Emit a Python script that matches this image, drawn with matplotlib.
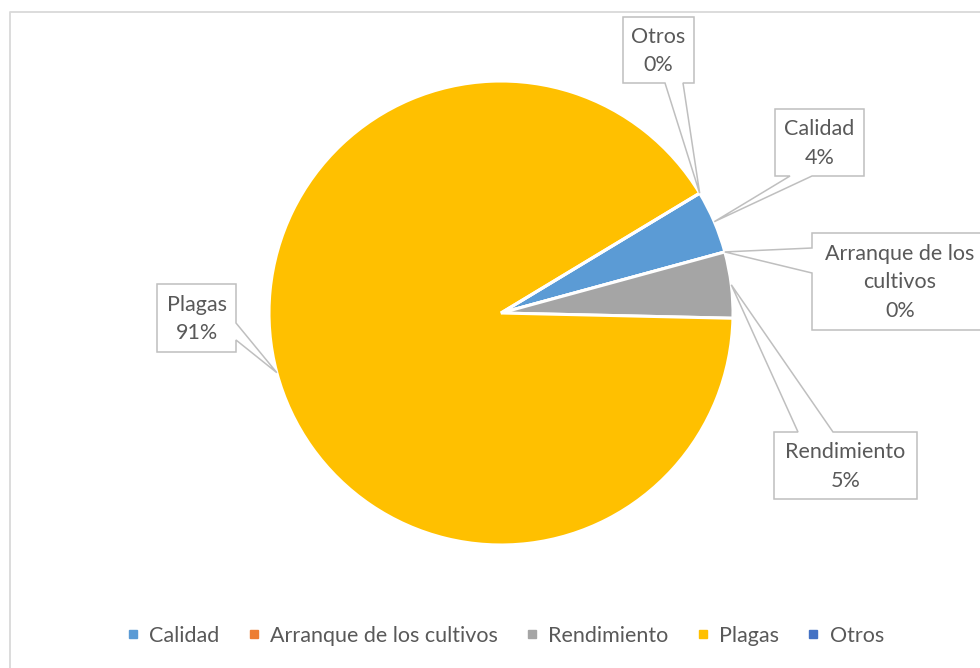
import matplotlib
matplotlib.use("Agg")
import matplotlib.pyplot as plt
from matplotlib.patches import Polygon
from matplotlib.lines import Line2D
import numpy as np

# data
categories = ["Calidad", "Arranque de los cultivos", "Rendimiento", "Plagas", "Otros"]
box_titles = ["Calidad", "Arranque de los\ncultivos", "Rendimiento", "Plagas", "Otros"]
shares = [4.4, 0.0, 4.6, 91.0, 0.0]
colors = ["#5B9BD5", "#ED7D31", "#A5A5A5", "#FFC000", "#4472C4"]

INK = "#595959"
EDGE = "#BFBFBF"
FONT = "Lato"
FS = 15.5

W, H = 980, 668
CX, CY, R = 501, 313, 232

# callout layout in pixels: box (x0, y0, x1, y1), side the pointer leaves from, base span on that side
CALLOUTS = {
    "Calidad": ((775, 109, 864, 176), "bottom", (790, 812)),
    "Arranque de los cultivos": ((812, 233, 992, 330), "left", (248, 273)),
    "Rendimiento": ((774, 432, 917, 499), "top", (798, 833)),
    "Plagas": ((157, 284, 236, 352), "right", (323, 340)),
    "Otros": ((623, 17, 694, 83), "bottom", (665, 683)),
}

fig = plt.figure(figsize=(W / 100, H / 100), dpi=100)
fig.patch.set_facecolor("white")

ax = fig.add_axes([(CX - R) / W, (H - CY - R) / H, 2 * R / W, 2 * R / H])
wedges, _ = ax.pie(shares, colors=colors, startangle=31.1, counterclock=False,
                   wedgeprops=dict(edgecolor="white", linewidth=2.2))
ax.set_xlim(-1, 1)
ax.set_ylim(-1, 1)

ov = fig.add_axes([0, 0, 1, 1])
ov.set_xlim(0, W)
ov.set_ylim(H, 0)
ov.axis("off")


def callout(box, side, base, tip):
    x0, y0, x1, y1 = box
    b1, b2 = sorted(base)
    if side == "bottom":
        pts = [(x0, y0), (x1, y0), (x1, y1), (b2, y1), tip, (b1, y1), (x0, y1)]
    elif side == "top":
        pts = [(x0, y0), (b1, y0), tip, (b2, y0), (x1, y0), (x1, y1), (x0, y1)]
    elif side == "left":
        pts = [(x0, y0), (x1, y0), (x1, y1), (x0, y1), (x0, b2), tip, (x0, b1)]
    else:
        pts = [(x0, y0), (x1, y0), (x1, b1), tip, (x1, b2), (x1, y1), (x0, y1)]
    ov.add_patch(Polygon(pts, closed=True, fc="white", ec=EDGE, lw=1.1, zorder=2))


total = sum(shares)
for w, name, title, s in zip(wedges, categories, box_titles, shares):
    mid = np.deg2rad((w.theta1 + w.theta2) / 2)
    tip = (CX + R * np.cos(mid), CY - R * np.sin(mid))
    box, side, base = CALLOUTS[name]
    callout(box, side, base, tip)
    x0, y0, x1, y1 = box
    cx = (x0 + min(x1, W) + 8) / 2 if name.startswith("Arr") else (x0 + x1) / 2
    ov.text(cx, (y0 + y1) / 2 + 1, f"{title}\n{round(100 * s / total)}%", ha="center", va="center",
            fontsize=FS, color=INK, family=FONT, linespacing=1.55, zorder=3)

# chart area border (only left and top show inside the crop)
ov.plot([9.5, 9.5, W + 10], [H + 10, 11.5, 11.5], color="#D9D9D9", lw=1.3, clip_on=False)

handles = [Line2D([], [], marker="s", ls="", color=c, markersize=5.5) for c in colors]
fig.legend(handles, categories, loc="center", bbox_to_anchor=(505 / W, 1 - 636 / H), ncol=5,
           frameon=False, handlelength=0.6, handletextpad=0.45, columnspacing=1.3,
           labelcolor=INK, prop=dict(family=FONT, size=FS))

fig.savefig("out.png", dpi=100, facecolor="white")
